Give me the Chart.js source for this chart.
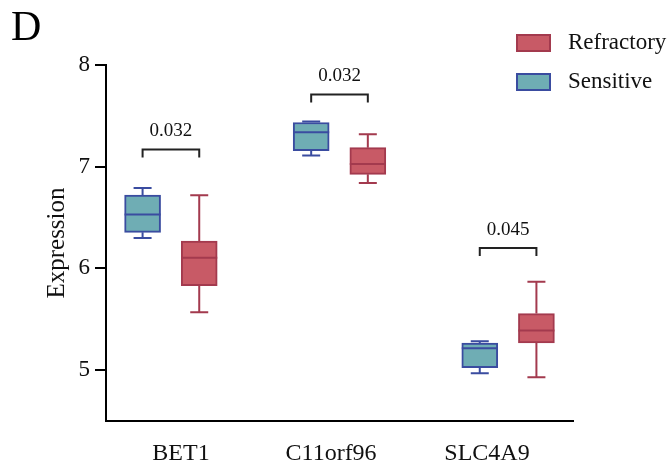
<!DOCTYPE html>
<html>
<head>
<meta charset="utf-8">
<script src="https://cdn.jsdelivr.net/npm/chart.js@4/dist/chart.umd.min.js"></script>
<style>
  html, body { margin: 0; padding: 0; background: #fff; }
  #wrap { width: 672px; height: 469px; }
</style>
</head>
<body>
<div id="wrap"><canvas id="c" width="672" height="469"></canvas></div>
<script>
// Genes on the x axis
const categories = ['BET1', 'C11orf96', 'SLC4A9'];

// Sensitive group: five-number summaries per gene
const sensitiveMin    = [6.30, 7.11, 4.97];
const sensitiveQ1     = [6.355, 7.157, 5.025];
const sensitiveMedian = [6.53, 7.34, 5.215];
const sensitiveQ3     = [6.72, 7.435, 5.267];
const sensitiveMax    = [6.79, 7.445, 5.284];

// Refractory group: five-number summaries per gene
const refractoryMin    = [5.57, 6.84, 4.93];
const refractoryQ1     = [5.83, 6.925, 5.267];
const refractoryMedian = [6.105, 7.026, 5.39];
const refractoryQ3     = [6.27, 7.187, 5.556];
const refractoryMax    = [6.72, 7.32, 5.87];

// p-values of the group comparison per gene, and the expression level of each bracket
const pValues = ['0.032', '0.032', '0.045'];
const bracketLevels = [7.17, 7.71, 6.20];

// y axis tick values
const yTicks = [5, 6, 7, 8];

const FONT = "'Liberation Serif', 'Times New Roman', serif";
const SENS_FILL = '#6fadb4', SENS_LINE = '#3a4ca0';
const REFR_FILL = '#c85a66', REFR_LINE = '#a33a4e';

// horizontal shift of each box from its gene position, and of each gene label
const boxShift = [-0.168, 0.168];
const labelShift = [0.06, -0.05, -0.125];

function boxData(q1, q3, shift) {
  return categories.map((_, j) => ({ x: j + 1 + shift, y: [q1[j], q3[j]] }));
}

const groups = [
  { label: 'Sensitive', fill: SENS_FILL, line: SENS_LINE,
    min: sensitiveMin, q1: sensitiveQ1, med: sensitiveMedian, q3: sensitiveQ3, max: sensitiveMax },
  { label: 'Refractory', fill: REFR_FILL, line: REFR_LINE,
    min: refractoryMin, q1: refractoryQ1, med: refractoryMedian, q3: refractoryQ3, max: refractoryMax }
];

// whiskers go behind the boxes, medians, brackets and labels on top
const boxPlotPlugin = {
  id: 'boxPlot',
  beforeDatasetsDraw(chart) {
    const ctx = chart.ctx, y = chart.scales.y;
    ctx.save();
    ctx.lineWidth = 2;
    groups.forEach((g, i) => {
      chart.getDatasetMeta(i).data.forEach((bar, j) => {
        const cx = bar.x, capHalf = 9;
        ctx.strokeStyle = g.line;
        ctx.beginPath();
        ctx.moveTo(cx, y.getPixelForValue(g.max[j]));
        ctx.lineTo(cx, y.getPixelForValue(g.q3[j]));
        ctx.moveTo(cx, y.getPixelForValue(g.q1[j]));
        ctx.lineTo(cx, y.getPixelForValue(g.min[j]));
        ctx.moveTo(cx - capHalf, y.getPixelForValue(g.max[j]));
        ctx.lineTo(cx + capHalf, y.getPixelForValue(g.max[j]));
        ctx.moveTo(cx - capHalf, y.getPixelForValue(g.min[j]));
        ctx.lineTo(cx + capHalf, y.getPixelForValue(g.min[j]));
        ctx.stroke();
      });
    });
    ctx.restore();
  },
  afterDatasetsDraw(chart) {
    const ctx = chart.ctx, y = chart.scales.y;
    ctx.save();
    ctx.lineWidth = 2;
    groups.forEach((g, i) => {
      chart.getDatasetMeta(i).data.forEach((bar, j) => {
        const half = bar.width / 2;
        const my = y.getPixelForValue(g.med[j]);
        ctx.strokeStyle = g.line;
        ctx.beginPath();
        ctx.moveTo(bar.x - half, my);
        ctx.lineTo(bar.x + half, my);
        ctx.stroke();
      });
    });
    // significance brackets
    const m0 = chart.getDatasetMeta(0).data, m1 = chart.getDatasetMeta(1).data;
    ctx.strokeStyle = '#222';
    ctx.fillStyle = '#111';
    ctx.font = '19px ' + FONT;
    ctx.textAlign = 'center';
    ctx.textBaseline = 'middle';
    categories.forEach((_, j) => {
      const top = y.getPixelForValue(bracketLevels[j]);
      const x0 = m0[j].x, x1 = m1[j].x;
      ctx.beginPath();
      ctx.moveTo(x0, top + 8);
      ctx.lineTo(x0, top);
      ctx.lineTo(x1, top);
      ctx.lineTo(x1, top + 8);
      ctx.stroke();
      ctx.fillText(pValues[j], (x0 + x1) / 2, top - 18);
    });
    ctx.restore();
  },
  afterDraw(chart) {
    const ctx = chart.ctx;
    ctx.save();
    // panel letter
    ctx.fillStyle = '#000';
    ctx.font = '42px ' + FONT;
    ctx.textAlign = 'left';
    ctx.textBaseline = 'alphabetic';
    ctx.fillText('D', 11, 40);
    // legend, Refractory first
    ctx.font = '23px ' + FONT;
    ctx.textBaseline = 'middle';
    const order = [1, 0];
    order.forEach((gi, k) => {
      const ds = chart.data.datasets[gi];
      const by = 35 + k * 39;
      ctx.fillStyle = ds.backgroundColor;
      ctx.strokeStyle = ds.borderColor;
      ctx.lineWidth = 2;
      ctx.fillRect(517, by, 33, 16);
      ctx.strokeRect(517, by, 33, 16);
      ctx.fillStyle = '#111';
      ctx.fillText(ds.label, 568, by + 8);
    });
    ctx.restore();
  }
};

new Chart(document.getElementById('c'), {
  type: 'bar',
  data: {
    datasets: groups.map((g, i) => ({
      label: g.label,
      data: boxData(g.q1, g.q3, boxShift[i]),
      backgroundColor: g.fill,
      borderColor: g.line,
      borderWidth: 2,
      borderSkipped: false,
      barThickness: 36,
      grouped: false
    }))
  },
  options: {
    responsive: false,
    animation: false,
    devicePixelRatio: 1,
    layout: { padding: { top: 65, right: 99, left: 0, bottom: 0 } },
    plugins: { legend: { display: false }, tooltip: { enabled: false } },
    scales: {
      x: {
        type: 'linear',
        offset: false,
        min: 0.615,
        max: 3.385,
        afterBuildTicks(scale) {
          scale.ticks = categories.map((_, j) => ({ value: j + 1 + labelShift[j] }));
        },
        afterFit(scale) { scale.height = 48; },
        grid: { display: false, drawTicks: false, offset: false },
        border: { display: true, color: '#000', width: 2 },
        ticks: {
          padding: 18,
          maxRotation: 0,
          autoSkip: false,
          color: '#111',
          font: { family: FONT, size: 24 },
          callback: (v, idx) => categories[idx]
        }
      },
      y: {
        min: 4.5,
        max: 8,
        afterBuildTicks(scale) {
          scale.ticks = yTicks.map(v => ({ value: v }));
        },
        afterFit(scale) { scale.width = 106; },
        grid: { display: true, drawOnChartArea: false, drawTicks: true, tickLength: 11, color: '#000', lineWidth: 2 },
        border: { display: true, color: '#000', width: 2 },
        ticks: {
          padding: 5,
          color: '#111',
          font: { family: FONT, size: 23 },
          callback: v => String(v)
        },
        title: {
          display: true,
          text: 'Expression',
          color: '#111',
          font: { family: FONT, size: 25 },
          padding: { top: 42, bottom: 0 }
        }
      }
    }
  },
  plugins: [boxPlotPlugin]
});
</script>
</body>
</html>
